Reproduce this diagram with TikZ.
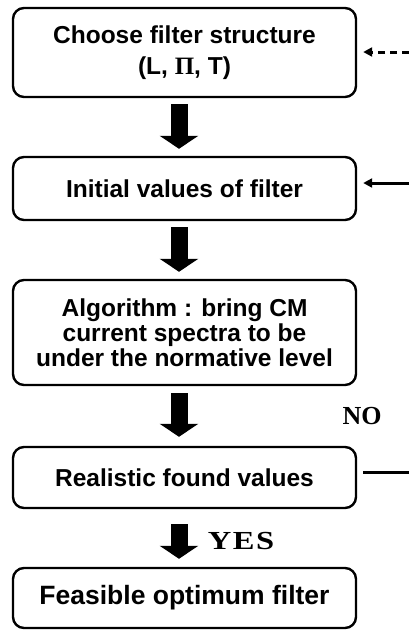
\documentclass[tikz,border=0pt]{standalone}
\usepackage{fontspec}
\setmainfont{Liberation Sans}
\newfontfamily\seriffont{Liberation Serif}
\newfontfamily\widefont[FakeStretch=1.25,LetterSpace=6]{Liberation Serif}
\usetikzlibrary{arrows.meta,calc}
\begin{document}
\begin{tikzpicture}[x=1pt,y=-1pt,
  box/.style={draw, line width=2.4pt, rounded corners=11pt, minimum width=343pt,
    inner sep=0pt, align=center, font=\bfseries\fontsize{24.5}{25}\selectfont},
  flow/.style={line width=17pt, -{Triangle[length=13pt,width=38pt]}},
  side/.style={line width=3pt},
  lbl/.style={font=\seriffont\bfseries\fontsize{26}{26}\selectfont, inner sep=0pt}]
\useasboundingbox (0,0) rectangle (409,630);
\node[box, minimum height=89pt] (b1) at (184.5,52.5) {Choose filter structure\\[6pt](L, {\seriffont\fontsize{25}{25}\selectfont Π}, T)};
\node[box, minimum height=63pt] (b2) at (184.5,188.5) {Initial values of filter};
\node[box, minimum height=105pt] (b3) at (184.5,332.5) {Algorithm : bring CM\\current spectra to be\\under the normative level};
\node[box, minimum height=61pt] (b4) at (184.5,477.5) {Realistic found values};
\node[box, minimum height=60pt, font=\bfseries\fontsize{26.5}{27}\selectfont] (b5) at (184.5,598) {Feasible optimum filter};
\draw[flow] ($(b1.south)+(-5.5,6)$) -- ($(b2.north)+(-5.5,-7)$);
\draw[flow] ($(b2.south)+(-5.5,6)$) -- ($(b3.north)+(-5.5,-7)$);
\draw[flow] ($(b3.south)+(-5.5,7)$) -- ($(b4.north)+(-5.5,-9)$);
\draw[flow] ($(b4.south)+(-5.5,15)$) -- ($(b5.north)+(-5.5,-8)$);
\coordinate (e1) at (409,52);
\coordinate (e2) at (409,183);
\coordinate (e4) at (409,472);
\draw[side, dash pattern=on 7pt off 5pt, -{Triangle[length=9pt,width=9pt]}, shorten >=6pt] (e1) -- (b1.east |- e1);
\draw[side, -{Triangle[length=9pt,width=9pt]}, shorten >=6pt] (e2) -- (b2.east |- e2);
\draw[side] ($(b4.east |- e4)+(6,0)$) -- (e4);
\node[lbl] (no) at (362,416.5) {NO};
\node[lbl, font=\widefont\bfseries\fontsize{26}{26}\selectfont] (yes) at (241,541) {YES};
\end{tikzpicture}
\end{document}
